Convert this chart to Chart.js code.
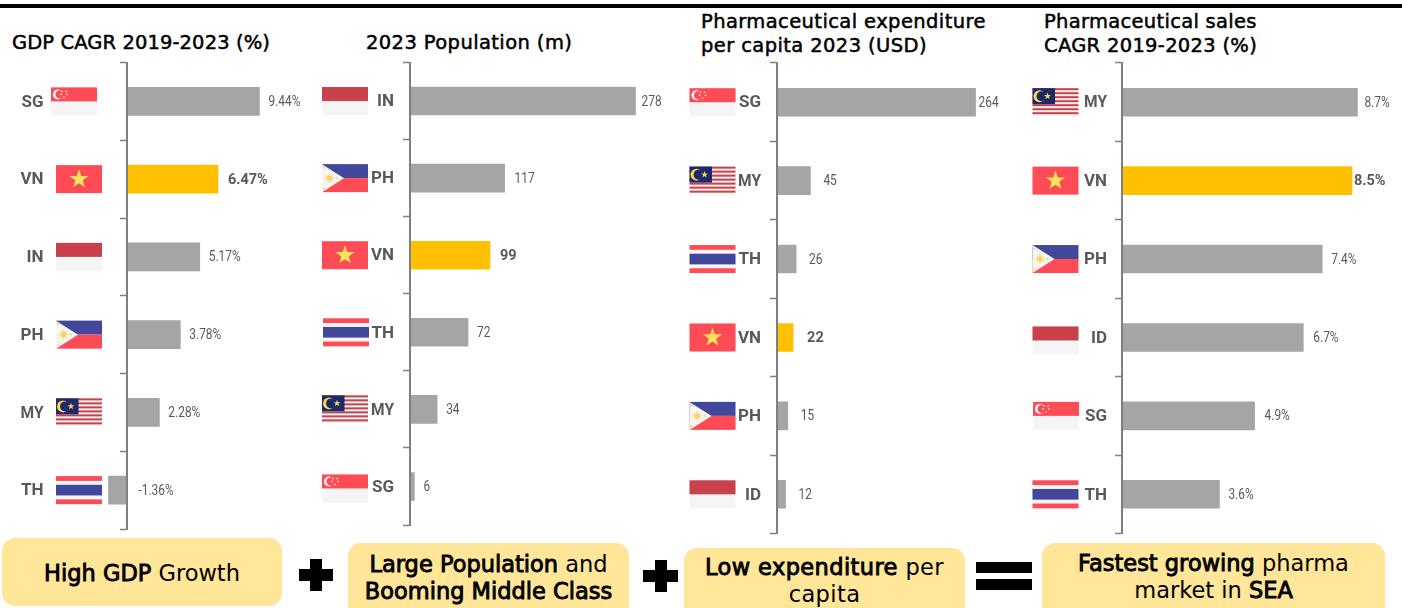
<!DOCTYPE html>
<html>
<head>
<meta charset="utf-8">
<script src="https://cdn.jsdelivr.net/npm/chart.js@4"></script>
<style>
  html, body { margin: 0; padding: 0; background: #fff; overflow: hidden; }
  #page { position: relative; width: 1402px; height: 608px; overflow: hidden; font-family: "DejaVu Sans", sans-serif; color: #000; }
  #topline { position: absolute; left: 0; top: 4px; width: 1402px; height: 4px; background: #000; }
  canvas { position: absolute; top: 0; }
  .title { position: absolute; font-size: 19.5px; letter-spacing: 0.3px; -webkit-text-stroke: 0.5px #000; line-height: 24px; white-space: nowrap; }
  .box { position: absolute; background: #ffe699; border-radius: 13px; text-align: center; font-size: 22.5px; line-height: 27px; white-space: nowrap; overflow: hidden; }
  .box b { font-weight: 400; -webkit-text-stroke: 0.9px #000; }
  .bar { position: absolute; background: #000; }
</style>
</head>
<body>
<div id="page">
  <div id="topline"></div>
  <div class="title" style="left:12px;top:31px;letter-spacing:0.1px">GDP CAGR 2019-2023 (%)</div>
  <div class="title" style="left:366px;top:31px;letter-spacing:0.4px">2023 Population (m)</div>
  <div class="title" style="left:701px;top:10px;letter-spacing:0.4px">Pharmaceutical expenditure<br>per capita 2023 (USD)</div>
  <div class="title" style="left:1044px;top:10px">Pharmaceutical sales<br>CAGR 2019-2023 (%)</div>

  <div class="box" style="left:2px;top:538px;width:280px;height:68px;line-height:70px"><b>High GDP</b> Growth</div>
  <div class="box" style="left:348px;top:543px;width:281px;height:70px;padding-top:8px"><b>Large Population</b> and<br><b>Booming Middle Class</b></div>
  <div class="box" style="left:684px;top:548px;width:281px;height:70px;padding-top:6px;letter-spacing:0.4px"><b>Low expenditure</b> per<br>capita</div>
  <div class="box" style="left:1042px;top:543px;width:343px;height:70px;padding-top:7px"><b>Fastest growing</b> pharma<br>market in <b>SEA</b></div>

  <div class="bar" style="left:299px;top:569px;width:34px;height:12px"></div>
  <div class="bar" style="left:310px;top:559px;width:12px;height:32px"></div>
  <div class="bar" style="left:643px;top:570px;width:35px;height:12px"></div>
  <div class="bar" style="left:655px;top:560px;width:12px;height:32px"></div>
  <div class="bar" style="left:976px;top:562px;width:56px;height:11px"></div>
  <div class="bar" style="left:976px;top:579px;width:56px;height:11px"></div>
</div>

<script>
const gdpCats = ["SG", "VN", "IN", "PH", "MY", "TH"];
const gdpVals = [9.44, 6.47, 5.17, 3.78, 2.28, -1.36];
const popCats = ["IN", "PH", "VN", "TH", "MY", "SG"];
const popVals = [278, 117, 99, 72, 34, 6];
const expCats = ["SG", "MY", "TH", "VN", "PH", "ID"];
const expVals = [264, 45, 26, 22, 15, 12];
const salesCats = ["MY", "VN", "PH", "ID", "SG", "TH"];
const salesVals = [8.7, 8.5, 7.4, 6.7, 4.9, 3.6];

const GREY = "#a5a5a5";
const GOLD = "#ffc000";
const AXIS = "#7f7f7f";
const TEXT = "#595959";
const RED = "#ff4b55";
const BLUE = "#41479b";
const WHITE = "#f5f5f5";
const CRIMSON = "#c8414b";
const YELLOW = "#ffe15a";

function star(ctx, cx, cy, r) {
  ctx.beginPath();
  for (let i = 0; i < 10; i++) {
    const a = -Math.PI / 2 + i * Math.PI / 5;
    const d = i % 2 ? r * 0.4 : r;
    ctx.lineTo(cx + d * Math.cos(a), cy + d * Math.sin(a));
  }
  ctx.closePath();
  ctx.fill();
}

function crescent(ctx, cx, cy, r, cut, color, bg) {
  ctx.fillStyle = color;
  ctx.beginPath();
  ctx.arc(cx, cy, r, 0, Math.PI * 2);
  ctx.fill();
  ctx.fillStyle = bg;
  ctx.beginPath();
  ctx.arc(cx + r * 0.35, cy, cut, 0, Math.PI * 2);
  ctx.fill();
}

// little flags, x/y is the top left corner
const flags = {
  SG(ctx, x, y, w, h) {
    ctx.fillStyle = WHITE;
    ctx.fillRect(x, y, w, h);
    ctx.fillStyle = RED;
    ctx.fillRect(x, y, w, h / 2);
    crescent(ctx, x + 7, y + 7, 5, 4.2, WHITE, RED);
    ctx.fillStyle = WHITE;
    [[11, 4], [15, 4], [10, 7], [16, 7], [13, 10]].forEach(p => {
      ctx.beginPath();
      ctx.arc(x + p[0], y + p[1], 0.8, 0, Math.PI * 2);
      ctx.fill();
    });
  },
  ID(ctx, x, y, w, h) {
    ctx.fillStyle = WHITE;
    ctx.fillRect(x, y, w, h);
    ctx.fillStyle = CRIMSON;
    ctx.fillRect(x, y, w, h / 2);
  },
  VN(ctx, x, y, w, h) {
    ctx.fillStyle = RED;
    ctx.fillRect(x, y, w, h);
    ctx.fillStyle = YELLOW;
    star(ctx, x + w / 2, y + h / 2, 10);
  },
  PH(ctx, x, y, w, h) {
    ctx.fillStyle = BLUE;
    ctx.fillRect(x, y, w, h / 2);
    ctx.fillStyle = RED;
    ctx.fillRect(x, y + h / 2, w, h / 2);
    ctx.fillStyle = WHITE;
    ctx.beginPath();
    ctx.moveTo(x, y);
    ctx.lineTo(x + w * 0.48, y + h / 2);
    ctx.lineTo(x, y + h);
    ctx.closePath();
    ctx.fill();
    ctx.fillStyle = "#ffd250";
    ctx.strokeStyle = "#ffd250";
    ctx.beginPath();
    ctx.arc(x + 7.5, y + h / 2, 2.6, 0, Math.PI * 2);
    ctx.fill();
    ctx.lineWidth = 0.8;
    for (let i = 0; i < 8; i++) {
      const a = i * Math.PI / 4;
      ctx.beginPath();
      ctx.moveTo(x + 7.5, y + h / 2);
      ctx.lineTo(x + 7.5 + 5 * Math.cos(a), y + h / 2 + 5 * Math.sin(a));
      ctx.stroke();
    }
    [[2, 3.5], [2, h - 3.5], [15, h / 2]].forEach(p => star(ctx, x + p[0], y + p[1], 1.6));
  },
  TH(ctx, x, y, w, h) {
    ctx.fillStyle = WHITE;
    ctx.fillRect(x, y, w, h);
    ctx.fillStyle = RED;
    ctx.fillRect(x, y, w, h * 0.17);
    ctx.fillRect(x, y + h * 0.83, w, h * 0.17);
    ctx.fillStyle = BLUE;
    ctx.fillRect(x, y + h * 0.31, w, h * 0.38);
  },
  MY(ctx, x, y, w, h) {
    ctx.fillStyle = WHITE;
    ctx.fillRect(x, y, w, h);
    ctx.fillStyle = CRIMSON;
    for (let i = 0; i < 7; i++) {
      ctx.fillRect(x, y + i * h / 7, w, h / 14);
    }
    ctx.fillStyle = "#1b2a6b";
    ctx.fillRect(x, y, w * 0.49, h * 0.57);
    crescent(ctx, x + 7, y + 8, 6, 5, "#ffd250", "#1b2a6b");
    ctx.fillStyle = "#ffd250";
    star(ctx, x + 15, y + 8, 3.6);
  }
};
flags.IN = flags.ID; // the source labels Indonesia both ways

const labelsPlugin = {
  id: "labelsPlugin",
  afterDraw(chart, args, opts) {
    const ctx = chart.ctx;
    const xs = chart.scales.x;
    const ys = chart.scales.y;
    const axisX = xs.getPixelForValue(0);
    const meta = chart.getDatasetMeta(0);
    const vals = chart.data.datasets[0].data;
    ctx.save();
    ctx.textBaseline = "middle";
    chart.data.labels.forEach((cat, i) => {
      const cy = ys.getPixelForValue(i);
      flags[cat](ctx, opts.flagX + opts.flagDx[i], cy - 14 + opts.flagDy[i], 46, 28);

      ctx.fillStyle = TEXT;
      ctx.textAlign = "right";
      ctx.font = 'bold 17px Roboto';
      ctx.fillText(cat, opts.labelRight, cy + 1, 23);

      ctx.textAlign = "left";
      const txt = vals[i] + opts.unit;
      const endX = Math.max(meta.data[i].x, axisX);
      if (i === opts.hi) {
        ctx.font = 'bold 14.5px Roboto';
        ctx.fillText(txt, endX + opts.gaps[i], cy + 1);
      } else {
        // no condensed font here, so squeeze it a bit like the original
        ctx.font = '14px Roboto';
        ctx.fillText(txt, endX + opts.gaps[i], cy + 1, ctx.measureText(txt).width * 0.85);
      }
    });
    ctx.restore();
  }
};

function drawPanel(c) {
  const canvas = document.createElement("canvas");
  canvas.width = c.width;
  canvas.height = 608;
  canvas.style.left = c.left + "px";
  canvas.style.width = c.width + "px";
  canvas.style.height = "608px";
  document.getElementById("page").appendChild(canvas);

  const plotLeft = c.axisX - c.left + c.xMin * c.pxPerUnit;
  const plotW = (c.xMax - c.xMin) * c.pxPerUnit;

  new Chart(canvas, {
    type: "bar",
    data: {
      labels: c.cats,
      datasets: [{
        data: c.vals,
        backgroundColor: c.cats.map(k => k === "VN" ? GOLD : GREY),
        barThickness: 28,
        borderWidth: 0
      }]
    },
    options: {
      indexAxis: "y",
      responsive: false,
      animation: false,
      layout: {
        padding: {
          left: plotLeft,
          right: c.width - plotLeft - plotW,
          top: c.top,
          bottom: 608 - c.bottom
        }
      },
      plugins: {
        legend: { display: false },
        tooltip: { enabled: false },
        labelsPlugin: {
          flagX: c.flagX - c.left,
          flagDx: c.flagDx,
          flagDy: c.flagDy,
          labelRight: c.labelRight - c.left,
          gaps: c.gaps,
          unit: c.unit,
          hi: c.cats.indexOf("VN")
        }
      },
      scales: {
        x: { display: false, min: c.xMin, max: c.xMax },
        y: {
          position: { x: 0 },
          ticks: { display: false },
          grid: { drawOnChartArea: false, drawTicks: true, tickLength: 6, tickWidth: 1.5, tickColor: AXIS },
          border: { display: true, color: AXIS, width: 2, z: 1 }
        }
      }
    },
    plugins: [labelsPlugin]
  });
}

drawPanel({
  cats: gdpCats, vals: gdpVals, unit: "%",
  left: 0, width: 318, axisX: 127.5, pxPerUnit: 13.98, xMin: -2, xMax: 11, top: 62.5, bottom: 529,
  flagX: 56, flagDx: [-5, 0, 0, 0, 0, 0], flagDy: [0, 0, 0, 0, 0, 0],
  labelRight: 43.5, gaps: [9, 10, 9, 9, 9, 11]
});
drawPanel({
  cats: popCats, vals: popVals, unit: "",
  left: 318, width: 365, axisX: 409.5, pxPerUnit: 0.813, xMin: 0, xMax: 320, top: 62.5, bottom: 525,
  flagX: 322, flagDx: [0, 0, 0, 1, 0, 0], flagDy: [0, 0, 0, 0, 0, 2],
  labelRight: 394, gaps: [6, 10, 10, 9, 9, 9]
});
drawPanel({
  cats: expCats, vals: expVals, unit: "",
  left: 685, width: 340, axisX: 776.5, pxPerUnit: 0.754, xMin: 0, xMax: 300, top: 63, bottom: 533.5,
  flagX: 689.5, flagDx: [0, 0, 0, 0, 0, 0], flagDy: [0, 0, 0, 0, 0, 0],
  labelRight: 761, gaps: [3, 13, 13, 14, 13, 13]
});
drawPanel({
  cats: salesCats, vals: salesVals, unit: "%",
  left: 1028, width: 374, axisX: 1122, pxPerUnit: 27.06, xMin: 0, xMax: 10, top: 63, bottom: 533.5,
  flagX: 1032.5, flagDx: [0, 0, 0, 0, 0.5, 0], flagDy: [0, 0, 0, 3, 0, 0],
  labelRight: 1107, gaps: [7, 2, 9, 10, 10, 9]
});
</script>
</body>
</html>
